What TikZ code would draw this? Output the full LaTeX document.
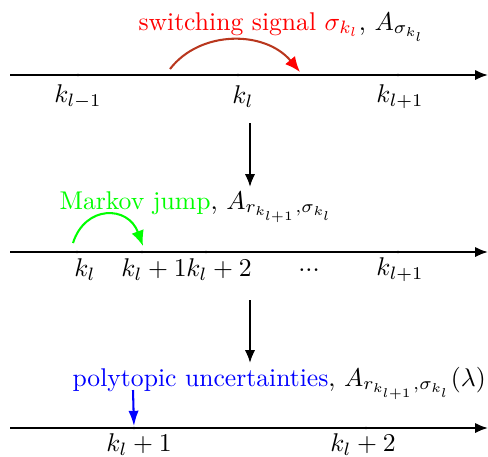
\documentclass[tikz,border=0pt]{standalone}
\usetikzlibrary{arrows.meta}

\definecolor{arcred}{RGB}{185,55,30}

\tikzset{
  tick/.style={circle, fill=black, inner sep=0.25pt},
  axis/.style={thick, -{Latex[length=5pt,width=4pt]}},
  step arrow/.style={thick, -{Latex[length=5pt,width=4pt]}}
}

\begin{document}
\begin{tikzpicture}[x=0.39pt,y=-0.39pt]
  \useasboundingbox (0,0) rectangle (488,456);

  % first line: switching signal
  \coordinate (s1) at (10,75);
  \coordinate (e1) at (488,75);
  \draw[axis] (s1) -- (e1);
  \node[tick] at (78,75) (a1) {};
  \node[tick] at (238,75) (a2) {};
  \node[tick] at (398,75) (a3) {};
  \node at (78,97) {$k_{l-1}$};
  \node at (243,97) {$k_l$};
  \node at (400,97) {$k_{l+1}$};
  \coordinate (r1) at (170,69);
  \coordinate (r2) at (300,72);
  \draw[thick, arcred, -{Latex[red,length=6pt,width=5pt]}]
    (r1) .. controls (200,30) and (265,30) .. (r2);
  \node[anchor=base west, inner sep=0] at (138,30) (sw)
    {\textcolor{red}{switching signal $\sigma_{k_l}$}, $A_{\sigma_{k_l}}$};

  \coordinate (d1) at (250,123);
  \coordinate (d2) at (250,187);
  \draw[step arrow] (d1) -- (d2);

  % second line: Markov jump
  \coordinate (s2) at (10,252);
  \coordinate (e2) at (488,252);
  \draw[axis] (s2) -- (e2);
  \node[tick] at (77,252) (b1) {};
  \node[tick] at (142,252) (b2) {};
  \node[tick] at (206,252) (b3) {};
  \node[tick] at (398,252) (b4) {};
  \node at (85,270) {$k_l$};
  \node at (154,270) {$k_l+1$};
  \node at (219,270) {$k_l+2$};
  \node at (309,270) {...};
  \node at (400,270) {$k_{l+1}$};
  \coordinate (g1) at (73,243);
  \coordinate (g2) at (143,246);
  \draw[thick, green, -{Latex[length=6pt,width=5pt]}]
    (g1) .. controls (85,205) and (128,205) .. (g2);
  \node[anchor=base west, inner sep=0] at (59,209) (mj)
    {\textcolor{green}{Markov jump}, $A_{r_{k_{l+1}},\sigma_{k_l}}$};

  \coordinate (d3) at (250,300);
  \coordinate (d4) at (250,363);
  \draw[step arrow] (d3) -- (d4);

  % third line: polytopic uncertainties
  \coordinate (s3) at (10,428);
  \coordinate (e3) at (488,428);
  \draw[axis] (s3) -- (e3);
  \node[tick] at (134,428) (c1) {};
  \node[tick] at (366,428) (c2) {};
  \node at (139,445) {$k_l+1$};
  \node at (363,445) {$k_l+2$};
  \coordinate (p1) at (133,390);
  \draw[thick, blue, -{Latex[length=6pt,width=4pt]}] (p1) -- (c1);
  \node[anchor=base west, inner sep=0] at (72,386) (pu)
    {\textcolor{blue}{polytopic uncertainties}, $A_{r_{k_{l+1}},\sigma_{k_l}}(\lambda)$};
\end{tikzpicture}
\end{document}
